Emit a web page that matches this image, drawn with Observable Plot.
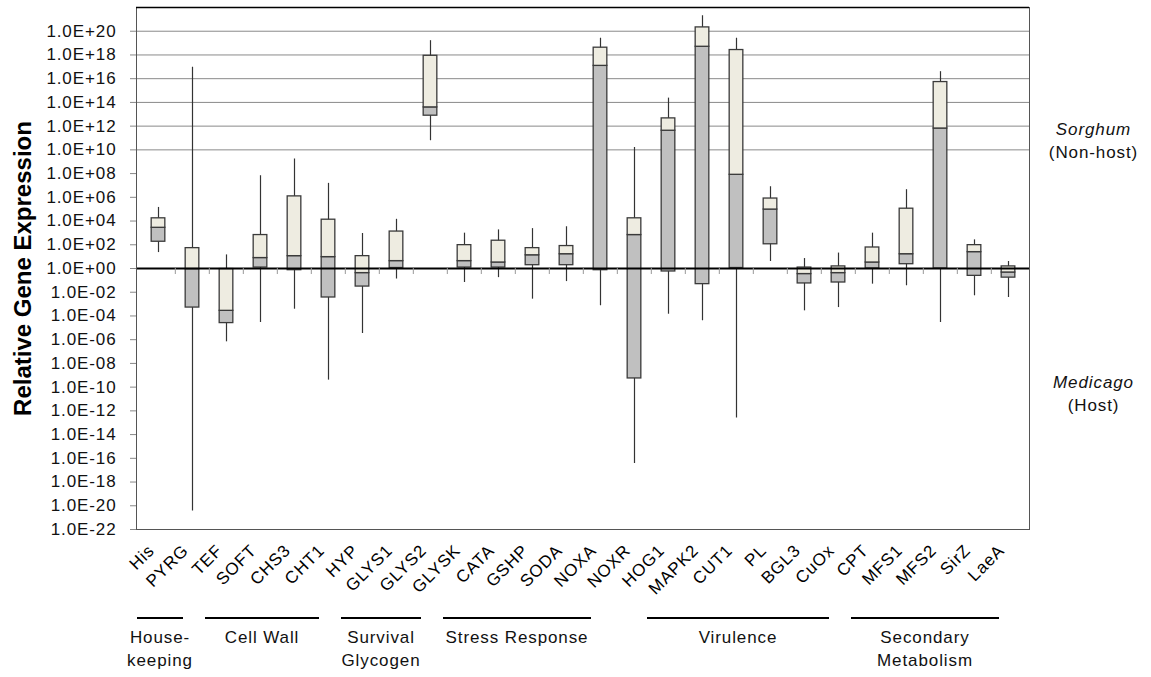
<!DOCTYPE html>
<html><head><meta charset="utf-8">
<script src="https://cdn.jsdelivr.net/npm/d3@7"></script>
<script src="https://cdn.jsdelivr.net/npm/@observablehq/plot@0.6"></script>
<style>html,body{margin:0;padding:0;background:#fff;}</style>
</head><body><div id="chart"></div>
<script>
// ---- data ----
const genes = ["His","PYRG","TEF","SOFT","CHS3","CHT1","HYP","GLYS1","GLYS2","GLYSK","CATA","GSHP","SODA","NOXA","NOXR","HOG1","MAPK2","CUT1","PL","BGL3","CuOx","CPT","MFS1","MFS2","SirZ","LaeA"];
const whiskerMax = [1.4e5, 9e16, 14, 6.6e7, 1.7e9, 1.5e7, 890, 1.4e4, 1.6e19, 950, 1800, 2300, 3300, 2.5e19, 1.6e10, 2.3e14, 2e21, 2.5e19, 7.8e6, 6.9, 20, 950, 4.4e6, 3.9e16, 260, 3.9];
const q3 = [1.7e4, 52, 0.9, 660, 1.2e6, 1.3e4, 11, 1300, 8.5e17, 93, 220, 52, 78, 4.1e18, 1.7e4, 4.5e12, 2.1e20, 2.6e18, 7.9e5, 1.2, 1.5, 59, 1.1e5, 5.2e15, 93, 1.5];
const median = [2700, 0.9, 2.7e-4, 7.6, 11, 9.1, 0.41, 4.2, 3.8e13, 4.2, 3.2, 13, 16, 1.2e17, 660, 4.1e11, 4.9e18, 7.9e7, 9.3e4, 0.34, 0.41, 3.2, 16, 6.3e11, 24, 0.46];
const q1 = [180, 5.1e-4, 2.5e-5, 1.2, 0.72, 3.6e-3, 0.03, 1.1, 7.6e12, 1.2, 1.2, 1.9, 1.9, 0.72, 5.4e-10, 0.56, 4.8e-2, 1.1, 110, 5.5e-2, 6.6e-2, 1.0, 2.3, 1.0, 0.24, 0.17];
const whiskerMin = [22, 3.7e-21, 6.6e-7, 2.8e-5, 3.7e-4, 3.9e-10, 3.3e-6, 0.13, 5.9e10, 6.6e-2, 0.17, 2.6e-3, 7.9e-2, 7.1e-4, 3.6e-17, 1.4e-4, 3.9e-5, 2.5e-13, 3.9, 2.7e-4, 5.1e-4, 4.8e-2, 3.5e-2, 2.8e-5, 5e-3, 3.6e-3];
const gridValues = [1e10, 1e12, 1e14, 1e16, 1e18, 1e20];
const yTicks = [1e-22,1e-20,1e-18,1e-16,1e-14,1e-12,1e-10,1e-8,1e-6,1e-4,1e-2,1,1e2,1e4,1e6,1e8,1e10,1e12,1e14,1e16,1e18,1e20];
const yTickLabels = ["1.0E-22","1.0E-20","1.0E-18","1.0E-16","1.0E-14","1.0E-12","1.0E-10","1.0E-08","1.0E-06","1.0E-04","1.0E-02","1.0E+00","1.0E+02","1.0E+04","1.0E+06","1.0E+08","1.0E+10","1.0E+12","1.0E+14","1.0E+16","1.0E+18","1.0E+20"];
const yTitle = "Relative Gene Expression";
const groupNames = ["House-\nkeeping","Cell Wall","Survival\nGlycogen","Stress Response","Virulence","Secondary\nMetabolism"];
const groupFirst = ["His","TEF","HYP","GLYSK","HOG1","CPT"];
const groupLast = ["PYRG","CHT1","GLYS2","NOXA","CuOx","LaeA"];

// ---- layout ----
const W = 1151, H = 677, mL = 136, mR = 122, mT = 7, mB = 148;
const step = (W - mL - mR) / genes.length;
const boxInset = (step - 14) / 2;
const rows = genes.map((g, i) => ({gene: g, lo: whiskerMin[i], q1: q1[i], med: median[i], q3: q3[i], hi: whiskerMax[i]}));
const FONT = "'Liberation Sans', Arial, Helvetica, sans-serif";

const plot = Plot.plot({
  width: W, height: H,
  marginLeft: mL, marginRight: mR, marginTop: mT, marginBottom: mB,
  style: `font-family: ${FONT}; background: #fff; color: #000; letter-spacing: 0.9px;`,
  x: {type: "band", domain: genes, padding: 0, axis: null},
  y: {type: "log", domain: [1e-22, 1e22], axis: null, label: null},
  marks: [
    Plot.ruleY(gridValues, {stroke: "#8a8a8a", strokeWidth: 1}),
    Plot.ruleX(rows, {x: "gene", y1: "lo", y2: "hi", stroke: "#333", strokeWidth: 1.2}),
    Plot.barY(rows, {x: "gene", y1: "q1", y2: "med", fill: "#c0c0c0", stroke: "#3a3a3a", strokeWidth: 1.3, insetLeft: boxInset, insetRight: boxInset}),
    Plot.barY(rows, {x: "gene", y1: "med", y2: "q3", fill: "#eeece1", stroke: "#3a3a3a", strokeWidth: 1.3, insetLeft: boxInset, insetRight: boxInset}),
    Plot.ruleY([1], {stroke: "#000", strokeWidth: 2.2}),
    Plot.ruleX(genes.slice(1), {x: d => d, y1: 1, y2: 1, dx: -step / 2, insetBottom: -6, stroke: "#999"}),
    Plot.frame({stroke: "#555"}),
    Plot.ruleY([1e22], {stroke: "#000", strokeWidth: 1.5}),
    Plot.axisY({ticks: yTicks, tickFormat: d => yTickLabels[yTicks.indexOf(d)], tickSize: 6, tickPadding: 14, fontSize: 17, stroke: "#888", fill: "#111", label: null}),
    Plot.text([yTitle], {frameAnchor: "left", dx: -113.5, rotate: -90, textAnchor: "middle", fontSize: 24, fontWeight: "bold", fill: "#000"}),
    Plot.text(genes, {x: d => d, frameAnchor: "bottom", dy: 22, dx: -3, rotate: -45, textAnchor: "end", fontSize: 17, fill: "#000"}),
    Plot.text(["Sorghum"], {frameAnchor: "top-right", dx: 64, dy: 115, textAnchor: "middle", fontSize: 17, fontStyle: "italic", fill: "#111"}),
    Plot.text(["(Non-host)"], {frameAnchor: "top-right", dx: 64, dy: 138, textAnchor: "middle", fontSize: 17, fill: "#111"}),
    Plot.text(["Medicago"], {frameAnchor: "top-right", dx: 64, dy: 368, textAnchor: "middle", fontSize: 17, fontStyle: "italic", fill: "#111"}),
    Plot.text(["(Host)"], {frameAnchor: "top-right", dx: 64, dy: 391, textAnchor: "middle", fontSize: 17, fill: "#111"})
  ]
});

// group brackets under the category labels, positioned with Plot's x scale
const xs = plot.scale("x");
const svg = d3.select(plot);
svg.selectAll("text").filter(function() { return this.textContent === yTitle; }).attr("letter-spacing", 0);
const yLine = H - mB + 89;
const g = svg.append("g").attr("font-family", FONT).attr("font-size", 17);
groupNames.forEach((name, i) => {
  const x1 = xs.apply(groupFirst[i]) - 4;
  const x2 = xs.apply(groupLast[i]) + xs.bandwidth - 26;
  g.append("line").attr("x1", x1).attr("x2", x2).attr("y1", yLine).attr("y2", yLine)
    .attr("stroke", "#000").attr("stroke-width", 2);
  const t = g.append("text").attr("text-anchor", "middle").attr("fill", "#111");
  name.split("\n").forEach((line, j) => {
    t.append("tspan").attr("x", (x1 + x2) / 2).attr("y", yLine + 25 + j * 23).text(line);
  });
});
document.getElementById("chart").appendChild(plot);
</script>
</body></html>
